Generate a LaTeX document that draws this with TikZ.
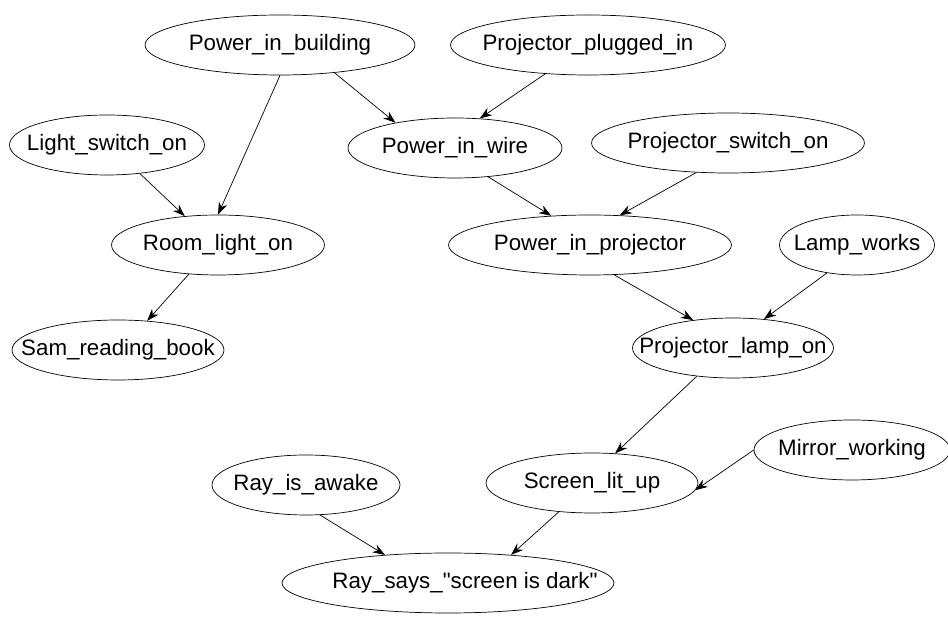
\documentclass[tikz,border=0pt]{standalone}
\usepackage{fontspec}
\setmainfont{Liberation Sans}
\usetikzlibrary{shapes.geometric,arrows.meta}

% label with no width, so the ellipse keeps its given size
\newcommand{\nlab}[1]{\makebox[0pt]{#1}}

\tikzset{
  evt/.style={draw, ellipse, inner sep=0pt, minimum height=1.2cm, font=\fontsize{12.7}{14}\selectfont},
  dep/.style={-{Stealth[length=7pt,width=5pt]}, thin}
}

\begin{document}
\begin{tikzpicture}[x=0.02cm, y=-0.02cm]
\useasboundingbox (0,0) rectangle (948,617);

% top row
\node[evt, minimum width=5.4cm]  at (280, 45)  (pib) {\nlab{Power\_in\_building}};
\node[evt, minimum width=5.5cm]  at (588, 45)  (ppi) {\nlab{Projector\_plugged\_in}};

% switches and wire
\node[evt, minimum width=3.9cm]  at (107, 145) (lso) {\nlab{Light\_switch\_on}};
\node[evt, minimum width=4.28cm] at (455, 148) (piw) {\nlab{Power\_in\_wire}};
\node[evt, minimum width=5.46cm] at (728, 143) (pso) {\nlab{Projector\_switch\_on}};

% room light and projector power
\node[evt, minimum width=4.26cm] at (218, 245) (rlo) {\nlab{Room\_light\_on}};
\node[evt, minimum width=5.66cm] at (590, 245) (pip) {\nlab{Power\_in\_projector}};
\node[evt, minimum width=3.1cm]  at (857, 245) (lw)  {\nlab{Lamp\_works}};

% reading and lamp
\node[evt, minimum width=4.24cm] at (118, 350) (srb) {\nlab{Sam\_reading\_book}};
\node[evt, minimum width=4.02cm] at (733, 348) (plo) {\nlab{Projector\_lamp\_on}};

% screen
\node[evt, minimum width=3.92cm] at (852, 450) (mw)  {\nlab{Mirror\_working}};
\node[evt, minimum width=3.76cm] at (306, 485) (ria) {\nlab{Ray\_is\_awake}};
\node[evt, minimum width=4.24cm] at (592, 483) (slu) {\nlab{Screen\_lit\_up}};

% bottom
\node[evt, minimum width=6.64cm] at (448, 583) (rsd) {\nlab{\hspace*{0.68cm}Ray\_says\_\textquotedbl screen is dark\textquotedbl}};

% dependencies
\draw[dep] (pib.270) -- (rlo.90);
\draw[dep] (pib.333) -- (piw.157);
\draw[dep] (ppi.214) -- (piw.50);
\draw[dep] (lso.319) -- (rlo.139);
\draw[dep] (piw.319) -- (pip.143);
\draw[dep] (pso.223) -- (pip.45);
\draw[dep] (rlo.225) -- (srb.45);
\draw[dep] (pip.309) -- (plo.145);
\draw[dep] (lw.223)  -- (plo.43);
\draw[dep] (plo.218) -- (slu.52);
\draw[dep] (mw.180)  -- (slu.356);
\draw[dep] (ria.295) -- (rsd.156);
\draw[dep] (slu.221) -- (rsd.24);

\end{tikzpicture}
\end{document}
